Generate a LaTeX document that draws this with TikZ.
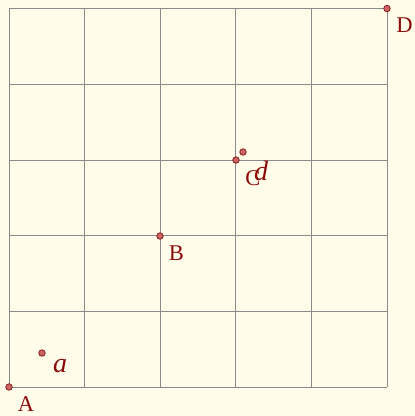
\documentclass[tikz,border=0pt]{standalone}
\usepackage{fontspec}
\setmainfont{Liberation Serif}
\definecolor{bg}{HTML}{FFFDE9}
\definecolor{gridc}{HTML}{8A8A8A}
\definecolor{ptfill}{HTML}{C86464}
\definecolor{ptdraw}{HTML}{8B1A1A}
\definecolor{lab}{HTML}{8B0A0A}
\begin{document}
\begin{tikzpicture}[x=1pt,y=-1pt,
  pt/.style={circle,fill=ptfill,draw=ptdraw,line width=0.8pt,inner sep=0pt,minimum size=6.5pt},
  caplab/.style={text=lab,font=\fontsize{22.5}{22.5}\selectfont,inner sep=0pt},
  itlab/.style={text=lab,font=\fontsize{28}{28}\selectfont\itshape,inner sep=0pt}]
\fill[bg] (0,0) rectangle (415,416);
\useasboundingbox (0,0) rectangle (415,416);
\foreach \i in {0,...,5} {
  \draw[gridc,line width=0.8pt] ({9+75.6*\i},8.5) -- ({9+75.6*\i},387);
  \draw[gridc,line width=0.8pt] (9,{8.5+75.7*\i}) -- (387,{8.5+75.7*\i});
}
\node[pt] (A) at (9,387) {};
\node[pt] (B) at (160,236) {};
\node[pt] (C) at (236,160) {};
\node[pt] (D) at (387,8.5) {};
\node[pt] (a) at (42,353) {};
\node[pt] (d) at (243,152) {};
\node[caplab] (lA) at (26,404.5) {A};
\node[caplab] (lB) at (176.5,253.5) {B};
\node[caplab] (lC) at (253,178) {C};
\node[caplab] (lD) at (404.5,25.5) {D};
\node[itlab] (la) at (60,366) {a};
\node[itlab] (ld) at (261,171) {d};
\end{tikzpicture}
\end{document}
